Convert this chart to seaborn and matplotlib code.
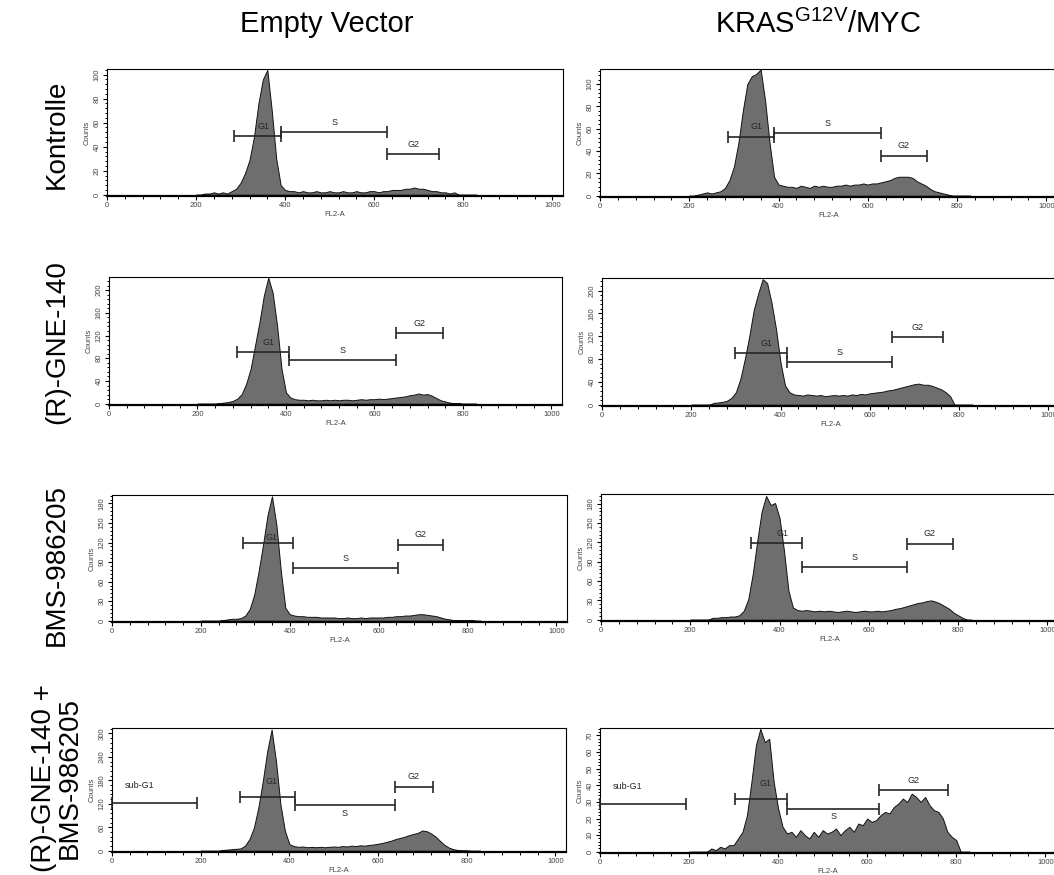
import numpy as np
import pandas as pd
import matplotlib
matplotlib.use("Agg")
import matplotlib.pyplot as plt
import seaborn as sns
from matplotlib.ticker import MultipleLocator, AutoMinorLocator

sns.set_theme(style="white")
plt.rcParams["font.family"] = ["Liberation Sans", "DejaVu Sans"]
plt.rcParams["mathtext.fontset"] = "custom"
plt.rcParams["mathtext.rm"] = "Liberation Sans"

# ---------------------------------------------------------------- data
# FL2-A channel bin centres (10-channel bins)
channel = np.arange(200, 830, 10)

column_titles = ["Empty Vector", r"KRAS$^{\mathregular{G12V}}$/MYC"]
row_titles = ["Kontrolle", "(R)-GNE-140", "BMS-986205", "(R)-GNE-140 +\nBMS-986205"]

ev_kontrolle = [0, 0, 1, 1, 2, 1, 2, 1, 3, 5,
                10, 18, 29, 48, 76, 96, 104, 70, 30, 8,
                4, 3, 3, 2, 3, 2, 2, 3, 2, 2,
                3, 2, 2, 3, 2, 2, 3, 2, 2, 3,
                3, 2, 3, 3, 4, 4, 4, 5, 5, 6,
                5, 5, 4, 3, 3, 2, 2, 1, 2, 0,
                0, 0, 0]
kras_kontrolle = [0, 0, 1, 2, 3, 2, 3, 4, 7, 14,
                  26, 47, 76, 100, 107, 109, 113, 85, 47, 17,
                  10, 9, 8, 8, 7, 9, 8, 7, 9, 8,
                  9, 8, 8, 9, 9, 10, 9, 10, 10, 11,
                  10, 11, 11, 12, 13, 14, 16, 17, 17, 17,
                  16, 13, 11, 9, 6, 4, 3, 2, 1, 0,
                  0, 0, 0]
ev_gne = [0, 0, 0, 0, 0, 1, 2, 3, 5, 9,
          17, 35, 61, 102, 143, 190, 222, 195, 137, 61,
          20, 11, 8, 7, 7, 6, 7, 6, 6, 7,
          6, 7, 6, 7, 7, 6, 7, 8, 7, 8,
          8, 9, 8, 9, 10, 11, 12, 13, 15, 16,
          18, 16, 17, 14, 10, 6, 4, 2, 1, 1,
          0, 0, 0]
kras_gne = [0, 0, 0, 0, 0, 3, 4, 5, 7, 12,
            22, 45, 80, 120, 166, 195, 220, 213, 178, 132,
            74, 34, 22, 18, 17, 16, 18, 17, 16, 17,
            15, 16, 17, 16, 17, 16, 18, 17, 19, 18,
            20, 21, 22, 23, 25, 26, 28, 30, 32, 34,
            36, 37, 35, 35, 33, 30, 27, 22, 15, 0,
            0, 0, 0]
ev_bms = [0, 0, 0, 0, 0, 1, 2, 3, 3, 4,
          8, 18, 40, 76, 117, 162, 191, 147, 76, 20,
          10, 8, 7, 7, 6, 6, 6, 5, 5, 5,
          5, 4, 4, 5, 4, 4, 5, 4, 5, 5,
          5, 5, 6, 6, 7, 7, 8, 8, 9, 10,
          10, 9, 8, 7, 5, 3, 2, 1, 1, 1,
          1, 1, 0]
kras_bms = [0, 0, 0, 0, 0, 3, 3, 4, 4, 5,
            5, 7, 14, 32, 71, 122, 168, 192, 178, 181,
            158, 107, 45, 19, 15, 14, 15, 14, 13, 14,
            13, 14, 13, 12, 13, 14, 13, 12, 13, 14,
            13, 13, 14, 13, 14, 15, 17, 18, 20, 22,
            24, 26, 27, 29, 30, 28, 25, 21, 17, 11,
            7, 3, 0]
ev_combo = [0, 0, 0, 0, 0, 2, 3, 4, 5, 6,
            13, 30, 59, 110, 177, 254, 310, 228, 118, 51,
            17, 12, 10, 11, 9, 10, 9, 10, 9, 10,
            11, 10, 12, 11, 13, 12, 14, 13, 15, 16,
            18, 20, 23, 26, 30, 33, 36, 40, 43, 46,
            52, 50, 44, 36, 25, 15, 8, 4, 2, 1,
            1, 0, 0]
kras_combo = [0, 0, 0, 0, 0, 2, 1, 3, 2, 4,
              4, 8, 12, 22, 42, 64, 74, 66, 68, 42,
              26, 15, 11, 12, 9, 13, 10, 8, 12, 9,
              13, 11, 12, 14, 10, 13, 15, 12, 17, 16,
              20, 18, 19, 22, 24, 23, 27, 29, 32, 30,
              35, 33, 30, 33, 28, 25, 24, 20, 12, 9,
              7, 0, 0]

# gates: (name, start, end, level)
ev_kontrolle_gates = [("G1", 285, 391, 49), ("S", 391, 629, 52), ("G2", 629, 746, 34)]
kras_kontrolle_gates = [("G1", 286, 391, 53), ("S", 391, 629, 56), ("G2", 629, 732, 36)]
ev_gne_gates = [("G1", 289, 408, 91), ("S", 408, 649, 77), ("G2", 649, 756, 124)]
kras_gne_gates = [("G1", 298, 414, 90), ("S", 414, 649, 74), ("G2", 649, 765, 119)]
ev_bms_gates = [("G1", 294, 407, 119), ("S", 407, 643, 81), ("G2", 643, 745, 117)]
kras_bms_gates = [("G1", 337, 450, 119), ("S", 450, 686, 82), ("G2", 686, 788, 118)]
ev_combo_gates = [("sub-G1", 0, 192, 121), ("G1", 289, 412, 137),
                  ("S", 412, 638, 117), ("G2", 638, 724, 164)]
kras_combo_gates = [("sub-G1", 0, 192, 28.5), ("G1", 303, 421, 32),
                    ("S", 421, 626, 26), ("G2", 626, 781, 37)]

# y-axis top and major tick step of each panel
y_tops = [[104.7, 113.5], [223, 222], [193, 195], [314, 74.5]]
y_steps = [[20, 20], [40, 40], [30, 30], [60, 10]]

panels = [[ev_kontrolle, kras_kontrolle], [ev_gne, kras_gne],
          [ev_bms, kras_bms], [ev_combo, kras_combo]]
panel_gates = [[ev_kontrolle_gates, kras_kontrolle_gates], [ev_gne_gates, kras_gne_gates],
               [ev_bms_gates, kras_bms_gates], [ev_combo_gates, kras_combo_gates]]

# ---------------------------------------------------------------- layout
W, H = 1054, 875
# (left, top, bottom, width) of each axes box in pixels
boxes = [[(107, 69, 196, 456), (600, 69, 197, 457)],
         [(109, 277, 405, 453), (602, 278, 406, 457)],
         [(112, 495, 622, 455), (601, 494, 621, 457)],
         [(112, 728, 852, 454), (600, 728, 853, 456)]]

FILL = "#6e6e6e"
GATE = "#262626"
TXT = "#444444"

fig = plt.figure(figsize=(W / 100, H / 100), dpi=100)


def gate_label_offset(row, col, name):
    if row == 3:
        return {"sub-G1": (-11, 13), "G1": (3, 11), "S": (0, -6), "G2": (0, 7)}[name]
    if row == 2 and col == 0 and name == "G1":
        return (3, 4)
    if name == "G1":
        return (4, 7)
    return (0, 7)


for r in range(4):
    for c in range(2):
        left, top, bottom, width = boxes[r][c]
        ax = fig.add_axes([left / W, 1 - bottom / H, width / W, (bottom - top) / H])
        hist_df = pd.DataFrame({"FL2-A": channel, "Counts": panels[r][c]})
        sns.histplot(data=hist_df, x="FL2-A", weights="Counts", binwidth=10,
                     binrange=(195, 835), element="poly", fill=True, color=FILL,
                     edgecolor="#111111", linewidth=0.7, alpha=1, ax=ax)
        ytop = y_tops[r][c]
        ax.set_xlim(0, 1024)
        ax.set_ylim(-ytop * 0.01, ytop)
        ax.xaxis.set_major_locator(MultipleLocator(200))
        ax.xaxis.set_minor_locator(MultipleLocator(40))
        ax.yaxis.set_major_locator(MultipleLocator(y_steps[r][c]))
        ax.yaxis.set_minor_locator(AutoMinorLocator(5))
        ax.tick_params(which="major", direction="out", length=3, width=0.8,
                       labelsize=5.5, labelcolor=TXT, pad=1.5, colors="black")
        ax.tick_params(which="minor", direction="out", length=1.8, width=0.7,
                       colors="black")
        ax.tick_params(axis="x", which="both", bottom=True)
        ax.tick_params(axis="y", which="both", left=True, labelrotation=90)
        for lab in ax.get_yticklabels():
            lab.set_va("center")
        for side in ["left", "top", "right"]:
            ax.spines[side].set_linewidth(0.8)
            ax.spines[side].set_color("black")
        ax.spines["bottom"].set_linewidth(1.6)
        ax.spines["bottom"].set_color("black")
        ax.set_xlabel("FL2-A", fontsize=5.5, color=TXT, labelpad=1)
        ax.set_ylabel("Counts", fontsize=5.5, color=TXT, labelpad=2)

        for name, x0, x1, level in panel_gates[r][c]:
            ax.plot([x0, x1], [level, level], color=GATE, lw=1.2, solid_capstyle="butt",
                    clip_on=False, zorder=4)
            ax.plot([x0, x1], [level, level], linestyle="none", marker="|",
                    markersize=8, mew=1.2, color=GATE, clip_on=False, zorder=4)
            dx, dy = gate_label_offset(r, c, name)
            ax.annotate(name, xy=((x0 + x1) / 2, level), xytext=(dx, dy),
                        textcoords="offset points", ha="center", va="center",
                        fontsize=6.5, color=GATE, zorder=5)

# column titles
fig.text(327 / W, 1 - 24 / H, column_titles[0], fontsize=21, ha="center", va="center",
         color="black")
fig.text(818 / W, 1 - 24 / H, column_titles[1], fontsize=21, ha="center", va="center",
         color="black")

# row titles
row_y = [134, 342, 565, 778]
for r, label in enumerate(row_titles):
    fig.text(57 / W, 1 - row_y[r] / H, label, fontsize=20, rotation=90,
             ha="center", va="center", multialignment="center", linespacing=1.0,
             color="black")

fig.savefig("out.png", dpi=100)
